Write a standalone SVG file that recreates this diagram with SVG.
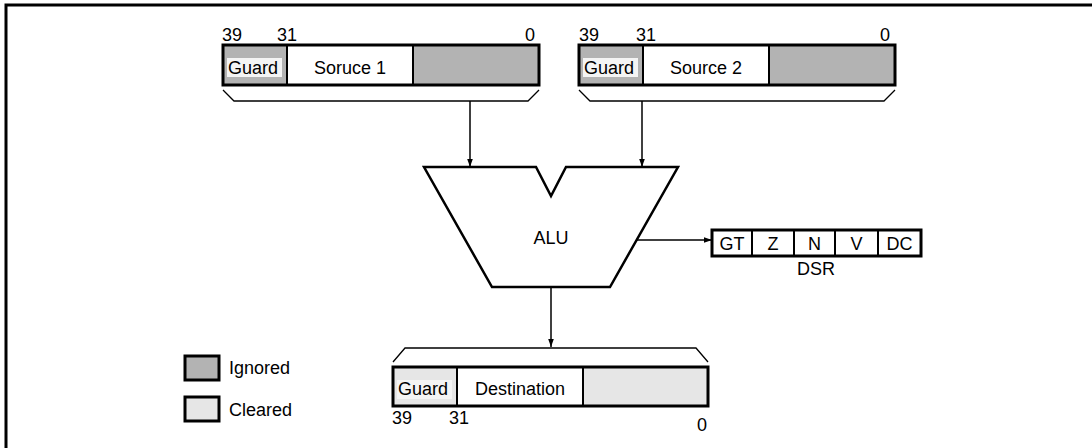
<svg xmlns="http://www.w3.org/2000/svg" width="1092" height="448" viewBox="0 0 1092 448">
<defs>
<style>
text{font-family:"Liberation Sans",Arial,sans-serif;font-size:18px;fill:#000}
.mid{text-anchor:middle}
.box{stroke:#000;stroke-width:3}
.div{stroke:#000;stroke-width:2}
.ign{fill:#b3b3b3}
.clr{fill:#e6e6e6}
.wht{fill:#fff}
.tag{fill:#f4f4f4}
.brk{fill:none;stroke:#000;stroke-width:1.3}
.wire{fill:none;stroke:#000;stroke-width:1.5}
</style>
<marker id="ah" viewBox="0 0 10 10" refX="10" refY="5" markerWidth="8" markerHeight="8" markerUnits="userSpaceOnUse" orient="auto">
<path d="M0,1.5 L10,5 L0,8.5 Z" fill="#000"/>
</marker>
</defs>
<rect width="1092" height="448" fill="#fff"/>
<path d="M6,448 V5 H1092" fill="none" stroke="#000" stroke-width="3"/>

<g id="source1">
<rect x="223" y="45" width="64" height="40" class="ign"/>
<rect x="287" y="45" width="126" height="40" class="wht"/>
<rect x="413" y="45" width="126" height="40" class="ign"/>
<rect x="227" y="58" width="55" height="19" class="tag"/>
<line x1="287" y1="45" x2="287" y2="85" class="div"/>
<line x1="413" y1="45" x2="413" y2="85" class="div"/>
<rect x="223" y="45" width="316" height="40" fill="none" class="box"/>
<text x="228" y="74">Guard</text>
<text x="350" y="74" class="mid">Soruce 1</text>
<text x="222" y="41">39</text>
<text x="277" y="41">31</text>
<text x="525" y="41">0</text>
<path d="M223,90 L234,101 H528 L539,90" class="brk"/>
</g>

<g id="source2">
<rect x="579" y="45" width="64" height="40" class="ign"/>
<rect x="643" y="45" width="126" height="40" class="wht"/>
<rect x="769" y="45" width="126" height="40" class="ign"/>
<rect x="583" y="58" width="55" height="19" class="tag"/>
<line x1="643" y1="45" x2="643" y2="85" class="div"/>
<line x1="769" y1="45" x2="769" y2="85" class="div"/>
<rect x="579" y="45" width="316" height="40" fill="none" class="box"/>
<text x="584" y="74">Guard</text>
<text x="706" y="74" class="mid">Source 2</text>
<text x="579" y="41">39</text>
<text x="636" y="41">31</text>
<text x="880" y="41">0</text>
<path d="M579,90 L590,101 H884 L895,90" class="brk"/>
</g>

<g id="alu">
<path d="M424,167 H536 L551,196 L566,167 H678 L610,287 H492 Z" fill="#fff" stroke="#000" stroke-width="2.5" stroke-linejoin="miter"/>
<text x="551" y="244" class="mid">ALU</text>
</g>

<g id="dsr">
<rect x="712" y="230" width="209" height="26" fill="#fff" class="box"/>
<line x1="752" y1="230" x2="752" y2="256" class="div"/>
<line x1="794" y1="230" x2="794" y2="256" class="div"/>
<line x1="835" y1="230" x2="835" y2="256" class="div"/>
<line x1="878" y1="230" x2="878" y2="256" class="div"/>
<text x="732" y="250" class="mid">GT</text>
<text x="773" y="250" class="mid">Z</text>
<text x="814.5" y="250" class="mid">N</text>
<text x="856.5" y="250" class="mid">V</text>
<text x="899.5" y="250" class="mid">DC</text>
<text x="816" y="275" class="mid">DSR</text>
</g>

<g id="destination">
<path d="M393,362 L405,348 H696 L708,362" class="brk"/>
<rect x="393" y="367" width="64" height="39" class="clr"/>
<rect x="457" y="367" width="126" height="39" class="wht"/>
<rect x="583" y="367" width="125" height="39" class="clr"/>
<rect x="397" y="380" width="55" height="19" class="tag"/>
<line x1="457" y1="367" x2="457" y2="406" class="div"/>
<line x1="583" y1="367" x2="583" y2="406" class="div"/>
<rect x="393" y="367" width="315" height="39" fill="none" class="box"/>
<text x="398" y="395">Guard</text>
<text x="520" y="395" class="mid">Destination</text>
<text x="392" y="424">39</text>
<text x="449" y="424">31</text>
<text x="697" y="431">0</text>
</g>

<g id="legend">
<rect x="185" y="356" width="34" height="24" class="ign box"/>
<text x="229" y="374">Ignored</text>
<rect x="185" y="397" width="34" height="24" class="clr box"/>
<text x="229" y="416">Cleared</text>
</g>

<g id="connectors">
<line x1="470" y1="101" x2="470" y2="167" class="wire" marker-end="url(#ah)"/>
<line x1="642" y1="101" x2="642" y2="167" class="wire" marker-end="url(#ah)"/>
<line x1="637" y1="240" x2="712" y2="240" class="wire" marker-end="url(#ah)"/>
<line x1="551" y1="287" x2="551" y2="347" class="wire" marker-end="url(#ah)"/>
</g>
</svg>
